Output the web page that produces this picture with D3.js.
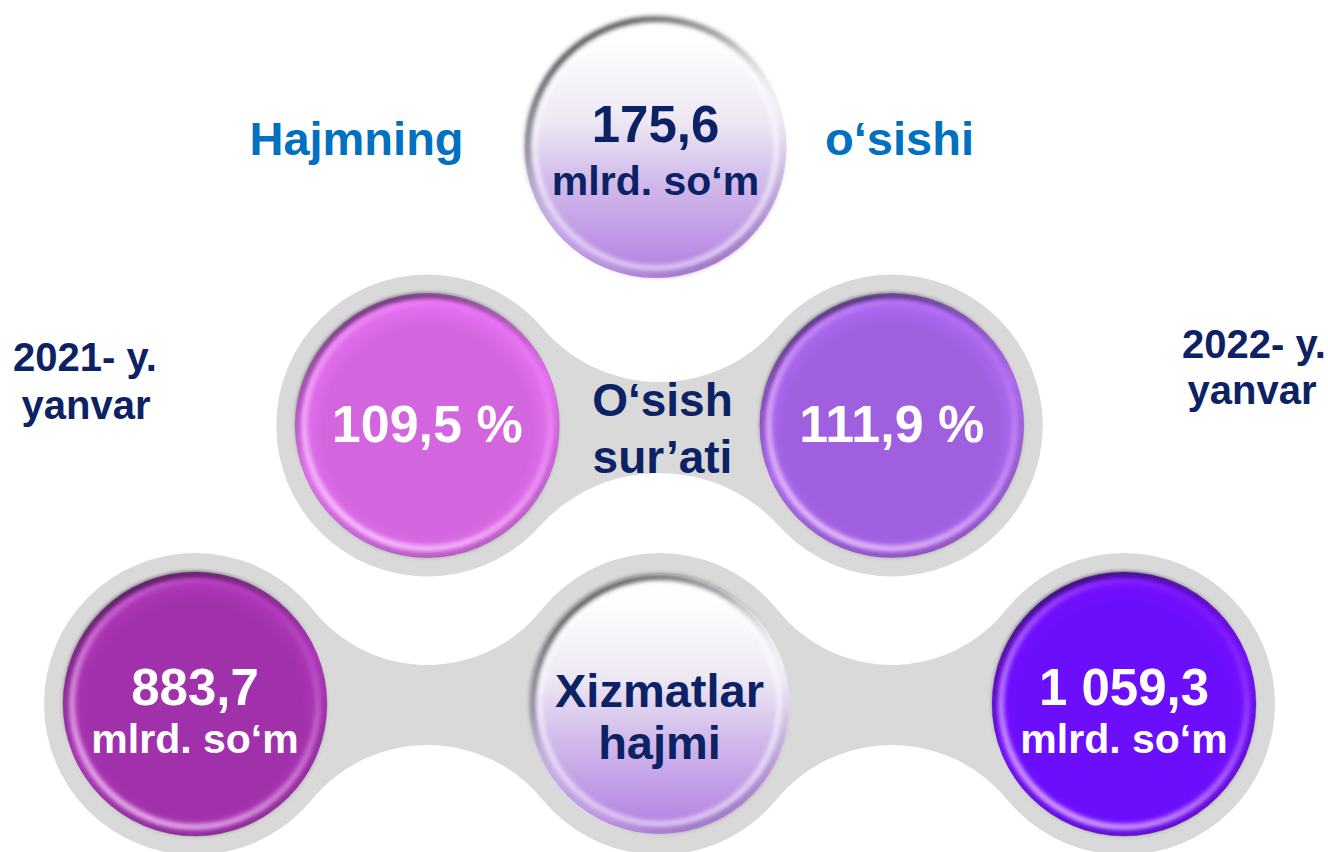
<!DOCTYPE html>
<html>
<head>
<meta charset="utf-8">
<script src="https://cdn.jsdelivr.net/npm/d3@7"></script>
<style>
  body { margin: 0; background: #fff; }
  text { font-family: "Liberation Sans", Arial, sans-serif; font-weight: bold; }
</style>
</head>
<body>
<div id="chart"></div>
<script>
// data
const periods = ["2021- y.", "2022- y."];
const periodMonth = ["yanvar", "yanvar"];
const serviceVolume = [883.7, 1059.3];   // mlrd. so‘m
const growthRate = [109.5, 111.9];       // %
const volumeIncrease = [175.6];          // mlrd. so‘m
const unitLabel = "mlrd. so‘m";
const rowTitles = [["Hajmning", "o‘sishi"], ["O‘sish", "sur’ati"], ["Xizmatlar", "hajmi"]];
const volumeColors = ["#a031aa", "#6b0efc"];
const growthColors = ["#d366df", "#9f5fdf"];

//****************************************************************************
// canvas
const W = 1328, H = 852;
const navy = "#0c2264", blue = "#0070c0", gray = "#d9d9d9";
const R = 132, RG = 151;

const locale = d3.formatLocale({decimal: ",", thousands: " ", grouping: [3], currency: ["", ""]});
const fmt = locale.format(",.1f");

const svg = d3.select("#chart").append("svg")
  .attr("width", W).attr("height", H);
const defs = svg.append("defs");

// columns & rows
const x = d3.scaleLinear().domain([0, 2]).range([195, 1124]);
const y = d3.scalePoint().domain(["top", "mid", "bot"]).range([147, 704]);

//****************************************************************************
// gradients

const blur = defs.append("filter").attr("id", "blur").attr("x", "-20%").attr("y", "-20%").attr("width", "140%").attr("height", "140%");
blur.append("feGaussianBlur").attr("stdDeviation", 2.2);

const rim = defs.append("linearGradient").attr("id", "rim")
  .attr("x1", 0.3).attr("y1", 0).attr("x2", 0.7).attr("y2", 1);
rim.append("stop").attr("offset", 0).attr("stop-color", "#1a1020").attr("stop-opacity", 0.9);
rim.append("stop").attr("offset", 0.25).attr("stop-color", "#1a1020").attr("stop-opacity", 0.4);
rim.append("stop").attr("offset", 0.5).attr("stop-color", "#1a1020").attr("stop-opacity", 0.02);
rim.append("stop").attr("offset", 1).attr("stop-color", "#1a1020").attr("stop-opacity", 0.3);

const shine = defs.append("linearGradient").attr("id", "shine")
  .attr("x1", 0.8).attr("y1", 0).attr("x2", 0.2).attr("y2", 1);
shine.append("stop").attr("offset", 0).attr("stop-color", "#ffd8ff").attr("stop-opacity", 0.0);
shine.append("stop").attr("offset", 0.4).attr("stop-color", "#ffd8ff").attr("stop-opacity", 0.3);
shine.append("stop").attr("offset", 1).attr("stop-color", "#ffe4ff").attr("stop-opacity", 0.75);

const pale = defs.append("linearGradient").attr("id", "pale")
  .attr("x1", 0).attr("y1", 0).attr("x2", 0).attr("y2", 1);
pale.append("stop").attr("offset", 0.08).attr("stop-color", "#ffffff");
pale.append("stop").attr("offset", 0.4).attr("stop-color", "#eee8f4");
pale.append("stop").attr("offset", 0.62).attr("stop-color", "#d2bdeb");
pale.append("stop").attr("offset", 1).attr("stop-color", "#b27ee2");

const paleRim = defs.append("linearGradient").attr("id", "paleRim")
  .attr("x1", 0.2).attr("y1", 0).attr("x2", 0.8).attr("y2", 1);
paleRim.append("stop").attr("offset", 0).attr("stop-color", "#2a2a30").attr("stop-opacity", 0.9);
paleRim.append("stop").attr("offset", 0.3).attr("stop-color", "#505058").attr("stop-opacity", 0.55);
paleRim.append("stop").attr("offset", 0.6).attr("stop-color", "#ffffff").attr("stop-opacity", 0.1);
paleRim.append("stop").attr("offset", 1).attr("stop-color", "#6a4a90").attr("stop-opacity", 0.6);

const fillGrad = (id, c) => {
  const g = defs.append("radialGradient").attr("id", id)
    .attr("cx", 0.5).attr("cy", 0.52).attr("r", 0.55);
  g.append("stop").attr("offset", 0.72).attr("stop-color", c);
  g.append("stop").attr("offset", 1).attr("stop-color", d3.color(c).brighter(0.4));
  return `url(#${id})`;
};

//****************************************************************************
// gray backgrounds (metaball connectors)

const connectorPath = (a, b, neckTop, neckBot, rg) => {
  const mx = (a.x + b.x) / 2, cy = a.y, dx = (b.x - a.x) / 2;
  const side = (neck, dir) => {
    const dy = Math.abs(cy - neck);
    const r = (dx * dx + dy * dy - rg * rg) / (2 * (rg - dy));
    const c = {x: mx, y: neck + dir * r};
    const tan = p => {
      const vx = c.x - p.x, vy = c.y - p.y, len = Math.hypot(vx, vy);
      return [p.x + vx / len * rg, p.y + vy / len * rg];
    };
    return {r, l: tan(a), rt: tan(b)};
  };
  const t = side(neckTop, -1), bo = side(neckBot, 1);
  return `M${t.l}A${t.r},${t.r} 0 0 0 ${t.rt}L${bo.rt}A${bo.r},${bo.r} 0 0 0 ${bo.l}Z`;
};

const gBack = svg.append("g").attr("fill", gray);
const midPts = [0.5, 1.5].map(i => ({x: x(i), y: y("mid")}));
const botPts = [0, 1, 2].map(i => ({x: x(i), y: y("bot")}));

gBack.append("path").attr("d", connectorPath(midPts[0], midPts[1], 382, 473, RG));
gBack.append("path").attr("d", connectorPath(botPts[0], botPts[1], 665, 745, RG));
gBack.append("path").attr("d", connectorPath(botPts[1], botPts[2], 665, 745, RG));
gBack.selectAll("circle").data(midPts.concat(botPts)).enter().append("circle")
  .attr("cx", d => d.x).attr("cy", d => d.y).attr("r", RG);

//****************************************************************************
// buttons

const button = (cx, cy, r, color, id) => {
  const g = svg.append("g").attr("transform", `translate(${cx},${cy})`);
  if (color) {
    g.append("circle").attr("r", r).attr("fill", fillGrad(id, color));
    g.append("circle").attr("r", r - 9).attr("fill", "none")
      .attr("stroke", "url(#shine)").attr("stroke-width", 6).attr("filter", "url(#blur)");
    g.append("circle").attr("r", r - 2).attr("fill", "none")
      .attr("stroke", "url(#rim)").attr("stroke-width", 4).attr("filter", "url(#blur)");
    g.append("circle").attr("r", r).attr("fill", "none")
      .attr("stroke", "#2a1030").attr("stroke-opacity", 0.2).attr("stroke-width", 1);
  } else {
    g.append("circle").attr("r", r).attr("fill", "url(#pale)");
    g.append("circle").attr("r", r - 10).attr("fill", "none")
      .attr("stroke", "#ffffff").attr("stroke-opacity", 0.55).attr("stroke-width", 6).attr("filter", "url(#blur)");
    g.append("circle").attr("r", r - 3).attr("fill", "none")
      .attr("stroke", "url(#paleRim)").attr("stroke-width", 6).attr("filter", "url(#blur)");
  }
  return g;
};

const label = (g, lines, color) => {
  lines.forEach(l => g.append("text")
    .attr("x", l.dx || 0).attr("y", l.y)
    .attr("text-anchor", "middle")
    .attr("font-size", l.size)
    .attr("fill", color)
    .text(l.text));
};

// top: increase
const gTop = button(x(1) - 4, y("top"), 131, null);
label(gTop, [
  {text: fmt(volumeIncrease[0]), y: -5, size: 51},
  {text: unitLabel, y: 48, size: 41}
], navy);

// middle: growth rates
growthRate.forEach((v, i) => {
  const g = button(midPts[i].x, midPts[i].y, R, growthColors[i], "gr" + i);
  label(g, [{text: fmt(v) + " %", y: 16, size: 52}], "#fff");
});

// bottom: volumes
serviceVolume.forEach((v, i) => {
  const p = botPts[i * 2];
  const g = button(p.x, p.y, R, volumeColors[i], "vol" + i);
  label(g, [
    {text: fmt(v), y: 1, size: 51},
    {text: unitLabel, y: 49, size: 41}
  ], "#fff");
});

// bottom center: title button
const gMidBot = button(botPts[1].x, botPts[1].y, 130, null);
label(gMidBot, [
  {text: rowTitles[2][0], y: 3, size: 47},
  {text: rowTitles[2][1], y: 55, size: 47}
], navy);

//****************************************************************************
// free labels

const gText = svg.append("g");
label(gText, [
  {text: rowTitles[0][0], dx: x(1) - 303, y: 155, size: 47},
  {text: rowTitles[0][1], dx: x(1) + 240, y: 155, size: 47}
], blue);

label(gText, [
  {text: rowTitles[1][0], dx: x(1) + 3, y: y("mid") - 10, size: 46},
  {text: rowTitles[1][1], dx: x(1) + 3, y: y("mid") + 47, size: 46}
], navy);

label(gText, [
  {text: periods[0], dx: 85, y: 371, size: 40},
  {text: periodMonth[0], dx: 86, y: 419, size: 40},
  {text: periods[1], dx: 1254, y: 358, size: 40},
  {text: periodMonth[1], dx: 1252, y: 404, size: 40}
], navy);
</script>
</body>
</html>
